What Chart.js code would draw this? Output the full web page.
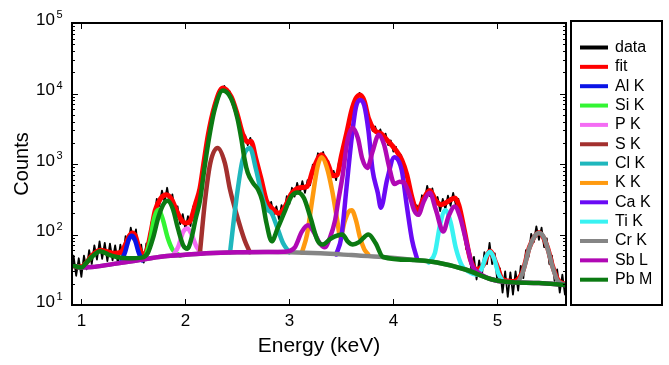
<!DOCTYPE html>
<html>
<head>
<meta charset="utf-8">
<script src="https://cdn.jsdelivr.net/npm/chart.js@4"></script>
<style>
  html, body { margin: 0; padding: 0; background: #fff; }
</style>
</head>
<body>
<canvas id="spectrum" width="669" height="365"></canvas>
<script>
// measured spectrum, one count every 0.025 keV starting at 0.9 keV
const dataStart = 0.9
const dataStep = 0.025
const dataCounts = [
  27, 50, 26, 46, 25, 50, 32, 60, 38, 70,
  44, 80, 45, 76, 42, 74, 43, 70, 40, 72,
  46, 95, 72, 125, 84, 118, 52, 72, 40, 75,
  64, 150, 165, 320, 255, 420, 290, 460, 275, 370,
  205, 250, 140, 195, 120, 182, 132, 250, 235, 420,
  500, 1100, 1560, 2950, 3700, 6500, 7600, 11300, 11000, 12800,
  10200, 10800, 7900, 7300, 4600, 4050, 2550, 2550, 1850, 2350,
  1530, 1330, 790, 700, 355, 365, 215, 290, 185, 250,
  165, 260, 200, 350, 270, 460, 345, 540, 380, 570,
  390, 590, 500, 980, 920, 1420, 1200, 1480, 960, 1100,
  670, 800, 590, 1040, 1150, 2100, 2450, 4100, 5300, 8100,
  8200, 10200, 8400, 8200, 4750, 4300, 2950, 3400, 2550, 3100,
  2250, 2700, 1850, 2150, 1500, 1750, 1180, 1330, 830, 820,
  430, 400, 215, 260, 200, 360, 300, 490, 350, 450,
  255, 340, 215, 320, 230, 355, 255, 390, 265, 320,
  165, 150, 62, 68, 31, 48, 23, 43, 25, 56,
  38, 76, 38, 54, 21, 33, 15, 30, 13, 29,
  14, 30, 16, 36, 24, 60, 48, 102, 78, 130,
  84, 125, 66, 88, 38, 50, 22, 32, 15, 27,
  14
]

// fit and fitted components: energy (keV) / counts
const fitE = [0.90, 0.95, 1.00, 1.05, 1.10, 1.18, 1.25, 1.32, 1.38, 1.42, 1.46, 1.49, 1.52, 1.55, 1.59, 1.63, 1.67, 1.71, 1.76, 1.82, 1.87, 1.92, 1.97, 2.01, 2.05, 2.10, 2.14, 2.18, 2.22, 2.28, 2.36, 2.44, 2.50, 2.55, 2.60, 2.63, 2.68, 2.73, 2.78, 2.84, 2.90, 2.96, 3.02, 3.10, 3.17, 3.23, 3.31, 3.37, 3.42, 3.46, 3.50, 3.55, 3.60, 3.64, 3.68, 3.72, 3.76, 3.82, 3.88, 3.95, 4.02, 4.08, 4.13, 4.18, 4.23, 4.29, 4.35, 4.41, 4.46, 4.50, 4.55, 4.59, 4.63, 4.68, 4.74, 4.80, 4.86, 4.93, 4.99, 5.05, 5.15, 5.24, 5.31, 5.40, 5.48, 5.53, 5.58, 5.65]
const fitC = [37, 35, 35, 40, 50, 60, 57, 54, 56, 70, 95, 105, 95, 68, 52, 60, 110, 220, 320, 365, 310, 210, 155, 145, 160, 280, 450, 1100, 2600, 6500, 12000, 9000, 5000, 2700, 2050, 2100, 1150, 600, 300, 230, 200, 250, 380, 460, 480, 850, 1350, 1000, 680, 700, 1300, 2700, 5800, 8500, 9500, 7800, 4500, 3000, 2700, 2100, 1600, 1150, 700, 330, 215, 320, 420, 300, 265, 280, 310, 330, 260, 120, 45, 32, 36, 58, 38, 23, 21.5, 29, 67, 106, 67, 36, 23, 19.5]

const alE = [1.38, 1.42, 1.455, 1.485, 1.515, 1.55, 1.585]
const alC = [40, 56, 84, 96, 84, 56, 43]

const siE = [1.61, 1.66, 1.70, 1.74, 1.78, 1.83, 1.88, 1.95]
const siC = [45, 80, 170, 225, 170, 90, 60, 50]

const pE = [1.88, 1.93, 1.98, 2.02, 2.06, 2.11, 2.16]
const pC = [50, 66, 110, 122, 100, 66, 54]

const sE = [2.14, 2.19, 2.24, 2.31, 2.38, 2.43, 2.49, 2.57, 2.62]
const sC = [55, 310, 1030, 1690, 1030, 430, 200, 83, 56]

const clE = [2.43, 2.49, 2.55, 2.62, 2.68, 2.75, 2.79, 2.83, 2.88, 2.94, 3.00]
const clC = [56, 310, 1140, 1690, 830, 300, 225, 200, 130, 75, 56]

const kE = [3.12, 3.17, 3.22, 3.27, 3.31, 3.36, 3.41, 3.46, 3.49, 3.53, 3.57, 3.60, 3.64, 3.68, 3.72, 3.76]
const kC = [55, 100, 310, 900, 1250, 900, 430, 160, 92, 150, 210, 220, 160, 90, 62, 52]

const caE = [3.45, 3.50, 3.55, 3.60, 3.64, 3.68, 3.72, 3.76, 3.80, 3.85, 3.88, 3.94, 4.01, 4.08, 4.13, 4.18, 4.23]
const caC = [52, 92, 470, 2400, 6400, 8100, 6800, 3000, 820, 390, 240, 600, 1250, 820, 250, 83, 44]

const tiE = [4.34, 4.40, 4.45, 4.50, 4.55, 4.60, 4.66, 4.72, 4.80, 4.85, 4.89, 4.93, 4.97, 5.01, 5.05]
const tiC = [40, 55, 140, 220, 150, 65, 36, 30, 27, 33, 48, 57, 45, 28, 22]

const crE = [0.90, 1.00, 1.10, 1.30, 1.50, 1.80, 2.00, 2.20, 2.50, 2.80, 3.00, 3.30, 3.60, 3.90, 4.20, 4.42, 4.70, 4.95, 5.10, 5.18, 5.24, 5.31, 5.36, 5.40, 5.44, 5.48, 5.53, 5.58, 5.65]
const crC = [37, 34, 34.5, 38, 42, 49, 51.5, 54, 56, 56.5, 56, 54, 51, 48, 43.5, 40, 31.6, 23, 21.2, 21, 28, 66, 95, 105, 95, 66, 35, 22, 19.5]

const sbE = [0.90, 1.00, 1.10, 1.30, 1.50, 1.80, 2.00, 2.20, 2.50, 2.80, 2.95, 3.05, 3.12, 3.18, 3.24, 3.29, 3.34, 3.39, 3.44, 3.47, 3.51, 3.56, 3.61, 3.66, 3.70, 3.75, 3.80, 3.86, 3.91, 3.96, 4.01, 4.06, 4.10, 4.15, 4.20, 4.24, 4.29, 4.35, 4.41, 4.48, 4.53, 4.59, 4.64, 4.70, 4.76, 4.83, 4.95, 5.10, 5.40, 5.65]
const sbC = [37, 34, 34.5, 38, 42, 49, 51.5, 54, 56, 56.5, 57, 65, 110, 135, 105, 76, 66, 90, 160, 300, 650, 2200, 3250, 2300, 1200, 880, 1500, 2600, 1900, 900, 520, 560, 550, 380, 220, 190, 290, 390, 220, 110, 180, 250, 180, 80, 36, 28, 23, 21.2, 20.5, 19.2]

const pbE = [0.90, 1.00, 1.05, 1.10, 1.18, 1.26, 1.34, 1.45, 1.58, 1.64, 1.69, 1.74, 1.79, 1.83, 1.88, 1.93, 1.98, 2.02, 2.06, 2.10, 2.14, 2.18, 2.22, 2.28, 2.36, 2.44, 2.50, 2.54, 2.57, 2.60, 2.65, 2.70, 2.74, 2.78, 2.83, 2.89, 2.96, 3.02, 3.08, 3.14, 3.20, 3.27, 3.32, 3.40, 3.51, 3.56, 3.61, 3.67, 3.76, 3.83, 3.90, 4.20, 4.42, 4.70, 4.95, 5.10, 5.40, 5.65]
const pbC = [37, 34, 40, 48, 58, 52, 48, 46, 47, 55, 90, 175, 270, 300, 230, 120, 70, 63, 90, 170, 300, 800, 2000, 5800, 11000, 8500, 4500, 2200, 1150, 750, 540, 430, 300, 145, 80, 125, 220, 350, 395, 330, 180, 83, 72, 88, 100, 80, 72, 78, 100, 75, 48, 43.5, 40, 31.6, 23, 21.2, 20.5, 19.2]

const xTicks = [1, 2, 3, 4, 5]
const yDecades = [1, 2, 3, 4, 5]

const font = '"Liberation Sans", Arial, Helvetica, sans-serif'

const pts = (E, C) => E.map((e, i) => ({ x: e, y: C[i] }))
const dataPts = dataCounts.map((c, i) => ({ x: +(dataStart + i * dataStep).toFixed(3), y: c }))

// legend order, also drawing order (last one ends up on top)
const series = [
    { label: 'data', color: '#000000', points: dataPts, width: 1.8, smooth: false },
    { label: 'fit', color: '#ff0000', points: pts(fitE, fitC), width: 5 },
    { label: 'Al K', color: '#0a14e6', points: pts(alE, alC), width: 4.5 },
    { label: 'Si K', color: '#33f533', points: pts(siE, siC), width: 4.5 },
    { label: 'P K', color: '#f46cf4', points: pts(pE, pC), width: 4.5 },
    { label: 'S K', color: '#a3302e', points: pts(sE, sC), width: 4.5 },
    { label: 'Cl K', color: '#1fb7bd', points: pts(clE, clC), width: 4.5 },
    { label: 'K K', color: '#ff9a0f', points: pts(kE, kC), width: 4.5 },
    { label: 'Ca K', color: '#6a0af5', points: pts(caE, caC), width: 4.5 },
    { label: 'Ti K', color: '#38f2f2', points: pts(tiE, tiC), width: 4.5 },
    { label: 'Cr K', color: '#858585', points: pts(crE, crC), width: 4.5 },
    { label: 'Sb L', color: '#b008b4', points: pts(sbE, sbC), width: 4.5 },
    { label: 'Pb M', color: '#0b7a12', points: pts(pbE, pbC), width: 4.5 }
]

const datasets = series.map((s, i) => ({
    label: s.label,
    data: s.points,
    borderColor: s.color,
    borderWidth: s.width,
    pointRadius: 0,
    fill: false,
    tension: 0,
    cubicInterpolationMode: s.smooth === false ? 'default' : 'monotone',
    borderJoinStyle: 'round',
    borderCapStyle: 'round',
    order: series.length - i
}))

// frame, ticks, labels and the boxed legend
const decorations = {
    id: 'decorations',
    afterDraw(chart) {
        const ctx = chart.ctx
        const a = chart.chartArea
        const xs = chart.scales.x
        const ys = chart.scales.y
        ctx.save()
        ctx.strokeStyle = '#000'
        ctx.fillStyle = '#000'

        // ticks
        ctx.lineWidth = 1
        ctx.beginPath()
        xTicks.forEach(v => {
            const px = Math.round(xs.getPixelForValue(v)) + 0.5
            ctx.moveTo(px, a.bottom); ctx.lineTo(px, a.bottom - 6)
            ctx.moveTo(px, a.top); ctx.lineTo(px, a.top + 6)
        })
        yDecades.forEach(d => {
            for (let m = 1; m < 10; m++) {
                const v = m * Math.pow(10, d)
                if (v > 1e5) break
                const py = Math.round(ys.getPixelForValue(v)) + 0.5
                const len = m === 1 ? 6 : 3
                ctx.moveTo(a.left, py); ctx.lineTo(a.left + len, py)
                ctx.moveTo(a.right, py); ctx.lineTo(a.right - len, py)
            }
        })
        ctx.stroke()

        ctx.lineWidth = 2
        ctx.strokeRect(a.left, a.top, a.right - a.left, a.bottom - a.top)

        // x tick labels
        ctx.font = '17px ' + font
        ctx.textAlign = 'center'
        ctx.textBaseline = 'middle'
        xTicks.forEach(v => ctx.fillText(String(v), xs.getPixelForValue(v), 321))

        // y tick labels 10^n
        yDecades.forEach(d => {
            const py = ys.getPixelForValue(Math.pow(10, d))
            ctx.font = '17px ' + font
            ctx.textAlign = 'right'
            ctx.fillText('10', 55, py - 3)
            ctx.font = '11px ' + font
            ctx.textAlign = 'left'
            ctx.fillText(String(d), 56.5, py - 8)
        })

        // axis titles
        ctx.font = '21px ' + font
        ctx.textAlign = 'center'
        ctx.fillText('Energy (keV)', (a.left + a.right) / 2, 346)
        ctx.save()
        ctx.translate(22, (a.top + a.bottom) / 2)
        ctx.rotate(-Math.PI / 2)
        ctx.font = '20px ' + font
        ctx.fillText('Counts', 0, 0)
        ctx.restore()

        // legend box
        ctx.lineWidth = 2
        ctx.strokeRect(571, 21, 91, 284)
        ctx.font = '16px ' + font
        ctx.textAlign = 'left'
        series.forEach((s, i) => {
            const y = 47.5 + i * 19.35
            ctx.strokeStyle = s.color
            ctx.lineWidth = 4
            ctx.beginPath()
            ctx.moveTo(580, y); ctx.lineTo(608, y)
            ctx.stroke()
            ctx.fillText(s.label, 615, y)
        })
        ctx.restore()
    }
}

new Chart(document.getElementById('spectrum'), {
    type: 'line',
    data: { datasets: datasets },
    options: {
        responsive: false,
        animation: false,
        layout: { padding: { left: 72, top: 23, right: 103, bottom: 60 } },
        plugins: { legend: { display: false }, tooltip: { enabled: false } },
        scales: {
            x: { type: 'linear', min: 0.91, max: 5.66, display: false },
            y: { type: 'logarithmic', min: 10, max: 100000, display: false }
        }
    },
    plugins: [decorations]
})
</script>
</body>
</html>
